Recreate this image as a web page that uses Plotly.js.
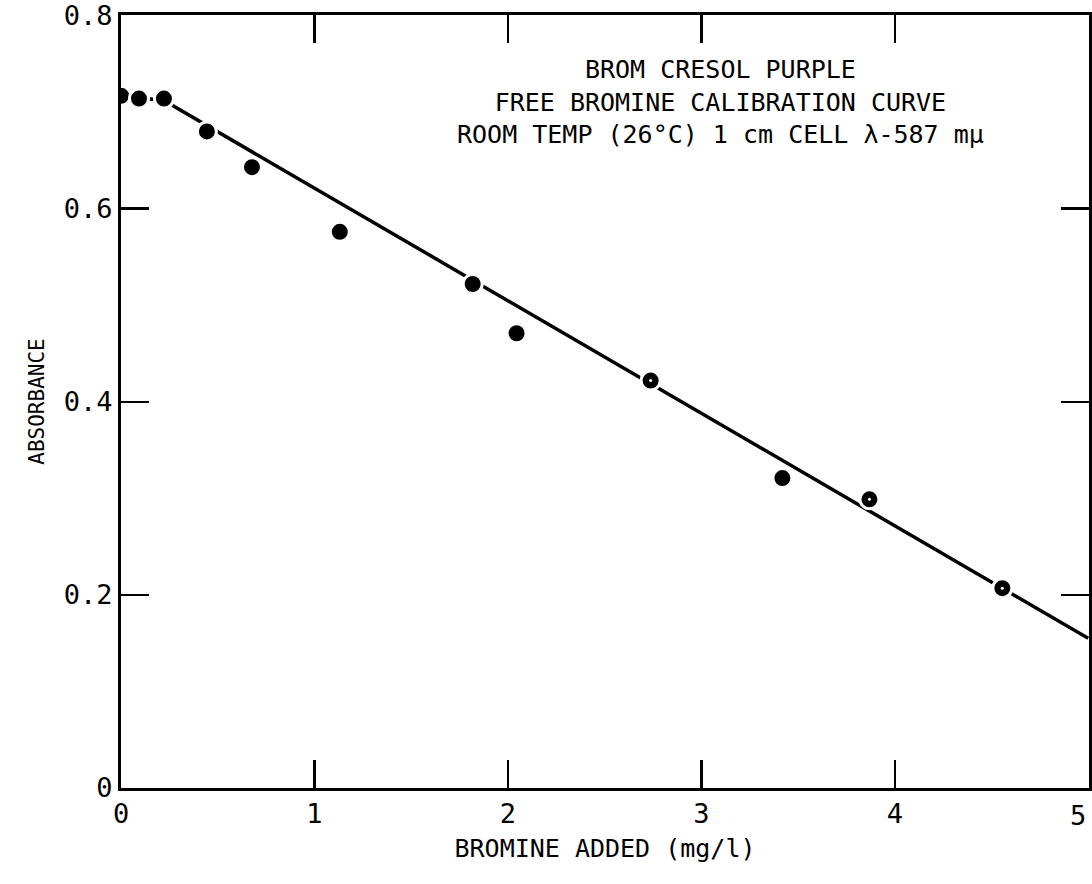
<!DOCTYPE html>
<html>
<head>
<meta charset="utf-8">
<script src="https://cdn.plot.ly/plotly-3.0.1.min.js"></script>
<style>html,body{margin:0;padding:0;background:#fff;}#chart{width:1092px;height:884px;}</style>
</head>
<body>
<div id="chart"></div>
<script>
// Measured data points (bromine added mg/l, absorbance)
const bromineAdded = [0.0, 0.093, 0.222, 0.444, 0.677, 1.131, 1.818, 2.045, 2.738, 3.419, 3.869, 4.556];
const absorbance   = [0.717, 0.714, 0.714, 0.680, 0.643, 0.576, 0.522, 0.471, 0.422, 0.321, 0.299, 0.207];
// Indices of points drawn with a small open centre
const openCentreIdx = [8, 10, 11];
// Hand-drawn calibration curve
const curveX = [0.0, 0.222, 5.0];
const curveY = [0.717, 0.712, 0.155];
// Axis ticks
const xTickVals = [0, 1, 2, 3, 4, 5];
const xTickText = ['0', '1', '2', '3', '4', '5'];
const yTickVals = [0, 0.2, 0.4, 0.6, 0.8];
const yTickText = ['0', '0.2', '0.4', '0.6', '0.8'];
const titleLines = ['BROM CRESOL PURPLE', 'FREE BROMINE CALIBRATION CURVE', 'ROOM TEMP (26°C) 1 cm CELL λ-587 mμ'];

const FONT = 'DejaVu Sans Mono, monospace';
const lastX = xTickVals.length - 1;

const traces = [
  {
    x: curveX, y: curveY, type: 'scatter', mode: 'lines',
    line: {color: '#000', width: 3.5}, hoverinfo: 'skip', showlegend: false
  },
  {
    x: bromineAdded, y: absorbance, type: 'scatter', mode: 'markers',
    marker: {color: '#000', size: 19, line: {color: '#fff', width: 3}},
    showlegend: false
  },
  {
    x: openCentreIdx.map(i => bromineAdded[i]), y: openCentreIdx.map(i => absorbance[i]),
    type: 'scatter', mode: 'markers',
    marker: {color: '#fff', size: 3}, showlegend: false, hoverinfo: 'skip'
  }
];

const layout = {
  width: 1092, height: 884,
  margin: {l: 121, r: 3, t: 15, b: 96},
  paper_bgcolor: '#fff', plot_bgcolor: '#fff',
  font: {family: FONT, color: '#000', size: 26},
  xaxis: {
    range: [0, 5.004], tickvals: xTickVals,
    // the last label sits flush against the page edge, so it is drawn as an annotation below
    ticktext: xTickText.map((t, i) => i === lastX ? '' : t),
    ticks: 'inside', ticklen: 28, tickwidth: 2.5, tickcolor: '#000',
    showline: true, linewidth: 3, linecolor: '#000', mirror: 'ticks',
    showgrid: false, zeroline: false,
    tickfont: {family: FONT, size: 27, color: '#000'},
    ticklabelstandoff: 0,
    title: {text: 'BROMINE ADDED (mg/l)', font: {family: FONT, size: 25, color: '#000'}, standoff: 12}
  },
  yaxis: {
    range: [0, 0.8006], tickvals: yTickVals, ticktext: yTickText,
    ticks: 'inside', ticklen: 28, tickwidth: 2.5, tickcolor: '#000',
    showline: true, linewidth: 3, linecolor: '#000', mirror: 'ticks',
    showgrid: false, zeroline: false,
    tickfont: {family: FONT, size: 27, color: '#000'},
    ticklabelstandoff: 0, ticklabeloverflow: 'allow',
    title: {text: 'ABSORBANCE', font: {family: FONT, size: 21, color: '#000'}, standoff: 14}
  },
  annotations: [
    {
      text: titleLines.join('<br>'), xref: 'x', yref: 'paper', x: 3.1, xanchor: 'center',
      y: 1 - (102 - 15) / 773, yanchor: 'middle', align: 'center',
      showarrow: false, font: {family: FONT, size: 25, color: '#000'}
    },
    {
      text: xTickText[lastX], xref: 'x', yref: 'paper', x: xTickVals[lastX], xanchor: 'right',
      y: 0, yanchor: 'middle', yshift: -27, xshift: 0,
      showarrow: false, font: {family: FONT, size: 27, color: '#000'}
    }
  ]
};

Plotly.newPlot('chart', traces, layout, {displayModeBar: false, staticPlot: true});
</script>
</body>
</html>
